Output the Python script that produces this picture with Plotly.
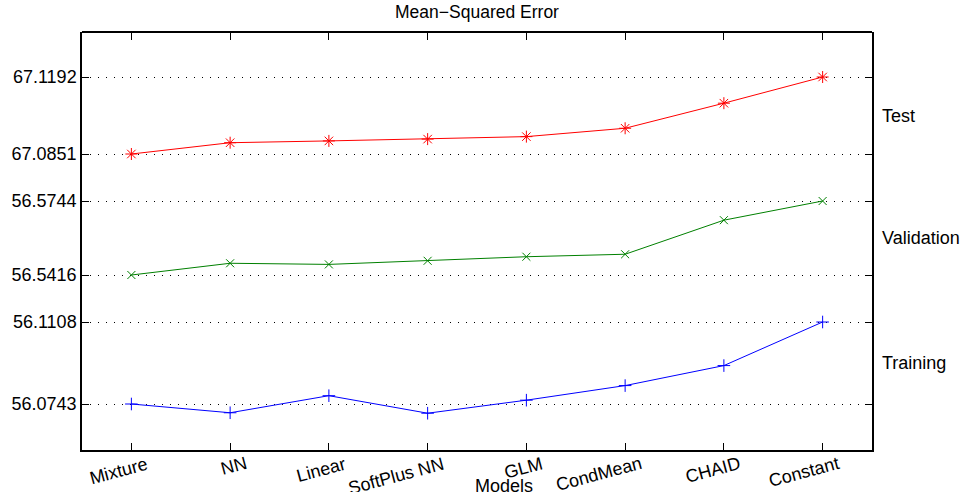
import plotly.graph_objects as go

models = ["Mixture", "NN", "Linear", "SoftPlus NN", "GLM", "CondMean", "CHAID", "Constant"]
test = [67.0851, 67.0901, 67.0909, 67.0917, 67.0928, 67.0965, 67.1076, 67.1192]
validation = [56.5416, 56.5468, 56.5463, 56.5479, 56.5497, 56.5508, 56.5659, 56.5744]
training = [56.0743, 56.0704, 56.0780, 56.0702, 56.0760, 56.0825, 56.0914, 56.1108]

x = list(range(1, len(models) + 1))
FONT = "Liberation Sans, Arial, sans-serif"
FS = 18

fig = go.Figure()
fig.add_trace(go.Scatter(x=x, y=test, mode="lines+markers", xaxis="x", yaxis="y",
                         line=dict(color="#ff0000", width=1),
                         marker=dict(symbol="asterisk-open", size=10, color="#ff0000", line=dict(width=1, color="#ff0000")),
                         showlegend=False, name="Test"))
fig.add_trace(go.Scatter(x=x, y=validation, mode="lines+markers", xaxis="x", yaxis="y2",
                         line=dict(color="#008000", width=1),
                         marker=dict(symbol="x-thin-open", size=8, color="#008000", line=dict(width=1, color="#008000")),
                         showlegend=False, name="Validation"))
fig.add_trace(go.Scatter(x=x, y=training, mode="lines+markers", xaxis="x", yaxis="y3",
                         line=dict(color="#0000ff", width=1),
                         marker=dict(symbol="cross-thin-open", size=9, color="#0000ff", line=dict(width=1, color="#0000ff")),
                         showlegend=False, name="Training"))
# invisible trace to carry the top axis
fig.add_trace(go.Scatter(x=[x[0]], y=[test[0]], xaxis="x2", yaxis="y", mode="markers",
                         marker=dict(opacity=0), showlegend=False, hoverinfo="skip"))

def yax(domain, rng, vals):
    return dict(domain=domain, range=rng, tickvals=vals, ticktext=[f"{v:.4f}" for v in vals],
                ticks="inside", ticklen=7, tickcolor="black", mirror="ticks",
                showline=True, linecolor="black", linewidth=1.5,
                showgrid=True, gridcolor="black", gridwidth=1, griddash="1px,7px",
                zeroline=False, anchor="x", tickfont=dict(family=FONT, size=FS, color="black"))

fig.update_layout(
    width=960, height=492,
    margin=dict(l=78, r=88, t=32, b=42),
    paper_bgcolor="white", plot_bgcolor="white",
    font=dict(family=FONT, size=FS, color="black"),
    title=dict(text="Mean\u2212Squared Error", x=0.5, xref="paper", y=0.976, yanchor="middle",
               font=dict(family=FONT, size=17.5, color="black")),
    xaxis=dict(range=[0.5, 8.5], tickvals=x, showticklabels=False, ticks="inside", ticklen=7,
               tickcolor="black", showline=True, linecolor="black", linewidth=1.5,
               showgrid=False, zeroline=False, anchor="y3"),
    xaxis2=dict(range=[0.5, 8.5], tickvals=x, showticklabels=False, ticks="inside", ticklen=7,
                tickcolor="black", showline=True, linecolor="black", linewidth=1.5,
                showgrid=False, zeroline=False, overlaying="x", side="top", anchor="free", position=1),
    yaxis=yax([0.6507, 1.0], [67.07447, 67.13913], [test[0], test[-1]]),
    yaxis2=yax([0.36124, 0.6507], [56.530962, 56.584595], [validation[0], validation[-1]]),
    yaxis3=yax([0.0, 0.36124], [56.053824, 56.121038], [training[0], training[-1]]),
)

annotations = []
for xi, m in zip(x, models):
    annotations.append(dict(text=m, x=xi, xref="x", y=0, yref="paper", xanchor="right", yanchor="top",
                            xshift=21, yshift=-1, textangle=-15, showarrow=False,
                            font=dict(family=FONT, size=FS, color="black")))
annotations.append(dict(text="Models", x=0.5, xref="paper", y=0, yref="paper", yanchor="top",
                        xshift=27, yshift=-24, showarrow=False, font=dict(family=FONT, size=FS, color="black")))
side_labels = [("Test", "y", (test[0] + test[-1]) / 2),
               ("Validation", "y2", (validation[0] + validation[-1]) / 2),
               ("Training", "y3", (training[0] + training[-1]) / 2)]
for name, yr, ym in side_labels:
    annotations.append(dict(text=name, x=1, xref="paper", y=ym, yref=yr, xanchor="left", xshift=8,
                            showarrow=False, font=dict(family=FONT, size=FS, color="black")))
fig.update_layout(annotations=annotations)

fig.write_html("out.html")
